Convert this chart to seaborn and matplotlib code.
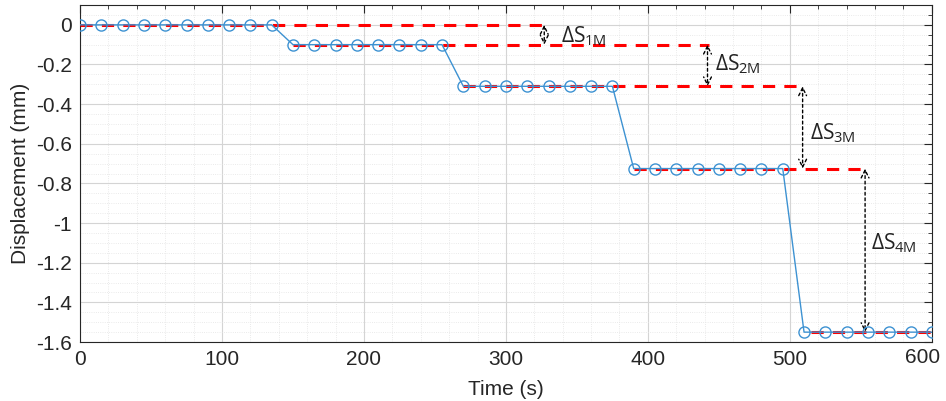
import matplotlib
matplotlib.use("Agg")
import matplotlib.pyplot as plt
import seaborn as sns
import pandas as pd
import numpy as np
from matplotlib.ticker import MultipleLocator

# data
tiempo = [0, 15, 30, 45, 60, 75, 90, 105, 120, 135,
          150, 165, 180, 195, 210, 225, 240, 255,
          270, 285, 300, 315, 330, 345, 360, 375,
          390, 405, 420, 435, 450, 465, 480, 495,
          510, 525, 540, 555, 570, 585, 600]
desplazamiento = [0, 0, 0, 0, 0, 0, 0, 0, 0, 0,
                  -0.10, -0.10, -0.10, -0.10, -0.10, -0.10, -0.10, -0.10,
                  -0.31, -0.31, -0.31, -0.31, -0.31, -0.31, -0.31, -0.31,
                  -0.725, -0.725, -0.725, -0.725, -0.725, -0.725, -0.725, -0.725,
                  -1.55, -1.55, -1.55, -1.55, -1.55, -1.55, -1.55]

# reference levels (red dashed) and their extents
niveles = [0, -0.10, -0.31, -0.725, -1.55]
nivel_desde = [0, 150, 270, 390, 515]
nivel_hasta = [330, 443, 509, 553, 600]

# delta arrows
flecha_x = [327, 442, 509, 553]
etiquetas = ["$\\Delta S_{1M}$", "$\\Delta S_{2M}$", "$\\Delta S_{3M}$", "$\\Delta S_{4M}$"]
etiqueta_pos = [(339, -0.055), (447, -0.20), (514, -0.545), (557, -1.10)]

xticks = [0, 100, 200, 300, 400, 500, 600]
xtick_labels = ['0', '100', '200', '300', '400', '500', '600']
yticks = [-1.6, -1.4, -1.2, -1.0, -0.8, -0.6, -0.4, -0.2, 0]
ytick_labels = ['-1.6', '-1.4', '-1.2', '-1', '-0.8', '-0.6', '-0.4', '-0.2', '0']

df = pd.DataFrame({"Time": tiempo, "Disp": desplazamiento})

sns.set_style("white")
plt.rcParams['font.family'] = ['Liberation Sans', 'DejaVu Sans']
plt.rcParams['mathtext.fontset'] = 'custom'
plt.rcParams['mathtext.rm'] = 'Open Sans'
plt.rcParams['mathtext.it'] = 'Open Sans'

fig = plt.figure(figsize=(9.46, 4.01), dpi=100)
ax = fig.add_axes([0.0846, 0.147, 0.9004, 0.8405])

for i in range(len(niveles)):
    ax.plot([nivel_desde[i], nivel_hasta[i]], [niveles[i], niveles[i]],
            color='#ff0000', lw=2.2, linestyle=(0, (4, 3)), zorder=3)

sns.lineplot(data=df, x="Time", y="Disp", ax=ax, color='#3d92d2', lw=1,
             marker='o', markersize=8, markerfacecolor='none',
             markeredgecolor='#3d92d2', markeredgewidth=1, zorder=4)

for i in range(len(flecha_x)):
    ax.annotate("", xy=(flecha_x[i], niveles[i + 1]), xytext=(flecha_x[i], niveles[i]),
                arrowprops=dict(arrowstyle='<->', color='black', lw=1,
                                linestyle=(0, (2, 2)), shrinkA=0, shrinkB=0,
                                mutation_scale=14))
    ax.text(etiqueta_pos[i][0], etiqueta_pos[i][1], etiquetas[i], fontsize=15,
            ha='left', va='center', color='#222222')

ax.set_xlim(0, 600)
ax.set_ylim(-1.6, 0.1)
ax.set_xticks(xticks)
# the last label is drawn separately, nudged inside the figure edge
ax.set_xticklabels(xtick_labels[:-1] + [''])
ax.annotate(xtick_labels[-1], xy=(xticks[-1], 0), xycoords=('data', 'axes fraction'),
            xytext=(-7, -4), textcoords='offset points', ha='center', va='top',
            fontsize=15, color='#262626')
ax.set_yticks(yticks)
ax.set_yticklabels(ytick_labels)
ax.xaxis.set_minor_locator(MultipleLocator(20))
ax.yaxis.set_minor_locator(MultipleLocator(0.05))
ax.grid(which='major', color='#d4d4d4', lw=0.8)
ax.grid(which='minor', color='#e3e3e3', lw=0.6, linestyle=':')
ax.set_axisbelow(True)
ax.tick_params(which='both', direction='in', top=True, right=True, labelsize=15,
               colors='#262626', pad=6)
ax.tick_params(which='major', length=6)
ax.tick_params(which='minor', length=3)
for s in ax.spines.values():
    s.set_color('#262626')
    s.set_linewidth(0.8)
ax.set_xlabel('Time (s)', fontsize=15, color='#262626', labelpad=8)
ax.set_ylabel('Displacement (mm)', fontsize=15, color='#262626', labelpad=4)

plt.savefig('out.png', dpi=100)
